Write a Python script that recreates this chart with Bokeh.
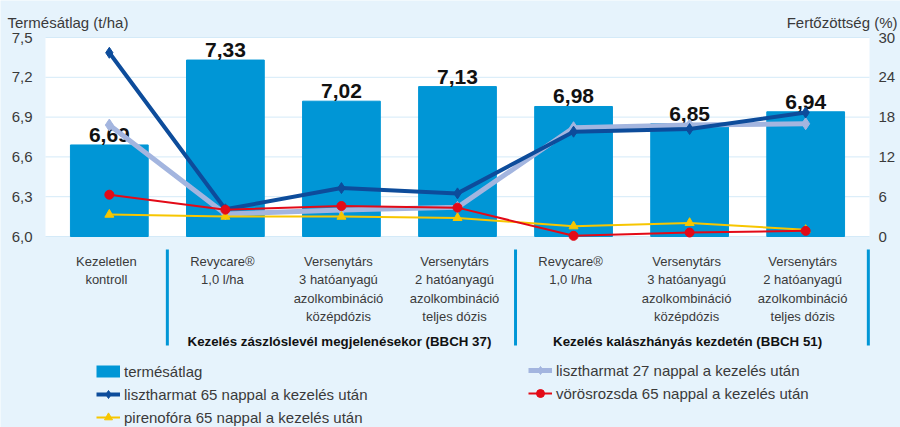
from bokeh.plotting import figure
from bokeh.models import (Range1d, BoxAnnotation, Legend, LegendItem, ColumnDataSource)
from bokeh.embed import file_html
from bokeh.resources import INLINE
from bokeh.core.properties import value

# ---------------- data ----------------
category_lines = [
    ["Kezeletlen", "kontroll"],
    ["Revycare®", "1,0 l/ha"],
    ["Versenytárs", "3 hatóanyagú", "azolkombináció", "középdózis"],
    ["Versenytárs", "2 hatóanyagú", "azolkombináció", "teljes dózis"],
    ["Revycare®", "1,0 l/ha"],
    ["Versenytárs", "3 hatóanyagú", "azolkombináció", "középdózis"],
    ["Versenytárs", "2 hatóanyagú", "azolkombináció", "teljes dózis"],
]
yield_avg = [6.69, 7.33, 7.02, 7.13, 6.98, 6.85, 6.94]
mildew_27 = [16.8, 3.4, 4.0, 4.4, 16.4, 16.8, 17.0]
mildew_65 = [27.7, 4.1, 7.3, 6.5, 15.8, 16.2, 18.7]
rust_65 = [6.3, 4.05, 4.6, 4.35, 0.1, 0.6, 0.85]
pyrenophora_65 = [3.3, 3.0, 3.0, 2.8, 1.55, 2.05, 1.0]
groups = ["Kezelés zászlóslevél megjelenésekor (BBCH 37)",
          "Kezelés kalászhányás kezdetén (BBCH 51)"]
group_bounds = [(1, 4), (4, 7)]
left_ticks = [6.0, 6.3, 6.6, 6.9, 7.2, 7.5]
right_ticks = [0, 6, 12, 18, 24, 30]
series_names = ["termésátlag", "lisztharmat 27 nappal a kezelés után",
                "lisztharmat 65 nappal a kezelés után",
                "vörösrozsda 65 nappal a kezelés után",
                "pirenofóra 65 nappal a kezelés után"]
left_title = "Termésátlag (t/ha)"
right_title = "Fertőzöttség (%)"

# ---------------- style ----------------
BG = "#E6F3FC"
BAR = "#0096D6"
DARK = "#0D4C9B"
LAV = "#A3B5DF"
RED = "#E30A17"
YEL = "#F7C600"
TXT = "#3a3a3a"
SANS = "Liberation Sans"

W, H = 900, 427
# plot area in pixels
PL, PR, PT, PB = 45, 869, 37, 236
X0, X1 = -0.05, 7.05
Y0, Y1 = 6.0, 7.5
R0, R1 = 0.0, 30.0
sx = (X1 - X0) / (PR - PL)
sy = (Y1 - Y0) / (PB - PT)
sr = (R1 - R0) / (PB - PT)
XL, XR = X0 - PL * sx, X1 + (W - PR) * sx
YT, YB = Y1 + PT * sy, Y0 - (H - PB) * sy
RT, RB = R1 + PT * sr, R0 - (H - PB) * sr


def dx(px):
    return XL + px * sx


def dy(py):
    return YT - py * sy


xs = [i + 0.5 for i in range(len(yield_avg))]
labels = [f"{v:.2f}".replace(".", ",") for v in yield_avg]

p = figure(width=W, height=H, output_backend="svg", toolbar_location=None,
           x_range=Range1d(XL, XR), y_range=Range1d(YB, YT), min_border=0,
           background_fill_color=BG, border_fill_color=BG, outline_line_color=None)
p.extra_y_ranges = {"pct": Range1d(RB, RT)}
p.axis.visible = False
p.grid.visible = False

# plot area background
p.add_layout(BoxAnnotation(left=X0, right=X1, bottom=Y0, top=Y1,
                           fill_color="white", fill_alpha=1, line_color=None,
                           level="underlay"))
# grid lines
p.segment(x0=X0, x1=X1, y0=left_ticks, y1=left_ticks, line_color="#D4EAF8",
          line_width=1)

# tick labels
p.text(x=[X0] * len(left_ticks), y=left_ticks,
       text=[f"{t:.1f}".replace(".", ",") for t in left_ticks],
       text_align="right", text_baseline="middle", x_offset=-13,
       text_font=value(SANS), text_font_size="15px", text_color=TXT)
p.text(x=[X1] * len(right_ticks), y=right_ticks, y_range_name="pct",
       text=[str(t) for t in right_ticks],
       text_align="left", text_baseline="middle", x_offset=9,
       text_font=value(SANS), text_font_size="15px", text_color=TXT)

src = ColumnDataSource(dict(x=xs, y=yield_avg, lab=labels, m27=mildew_27,
                            m65=mildew_65, rust=rust_65, pyr=pyrenophora_65))

p.vbar(x="x", top="y", bottom=Y0, width=0.67, color=BAR, source=src)
p.text(x="x", y="y", text="lab", source=src, text_align="center",
       text_baseline="bottom", y_offset=-3, text_font=value(SANS),
       text_font_style="bold", text_font_size="21px", text_color="#111111")

l27 = p.line("x", "m27", source=src, y_range_name="pct", color=LAV, line_width=5)
s27 = p.scatter("x", "m27", source=src, y_range_name="pct", marker="diamond",
                size=12, color=LAV)
l65 = p.line("x", "m65", source=src, y_range_name="pct", color=DARK, line_width=4)
s65 = p.scatter("x", "m65", source=src, y_range_name="pct", marker="diamond",
                size=11, color=DARK)
lp = p.line("x", "pyr", source=src, y_range_name="pct", color=YEL, line_width=2)
sp = p.scatter("x", "pyr", source=src, y_range_name="pct", marker="triangle",
               size=9, color=YEL)
lr = p.line("x", "rust", source=src, y_range_name="pct", color=RED, line_width=2)
srr = p.scatter("x", "rust", source=src, y_range_name="pct", marker="circle",
                size=9, color=RED)

# legend proxy for the bars (no visible mark)
bar_proxy = p.line(x=[float("nan")], y=[float("nan")], color=BAR, line_width=12)

# category labels
baselines = [260.7, 279.2, 297.7, 316.2]
cx, cy, ct = [], [], []
for x, lines in zip(xs, category_lines):
    for k, t in enumerate(lines):
        cx.append(x)
        cy.append(dy(baselines[k]))
        ct.append(t)
p.text(x=cx, y=cy, text=ct, text_align="center", text_baseline="alphabetic",
       x_offset=-3, text_font=value(SANS), text_font_size="13px",
       text_color=TXT)

p.text(x=[(a + b) / 2 for a, b in group_bounds], y=[dy(341)] * len(groups),
       text=groups, text_align="center", text_baseline="alphabetic", x_offset=-2,
       text_font=value(SANS), text_font_style="bold", text_font_size="13.3px",
       text_color="#111111")

sep_x = [a for a, b in group_bounds] + [group_bounds[-1][1] + 0.04]
p.segment(x0=sep_x, x1=sep_x, y0=[dy(249)] * 3, y1=[dy(345)] * 3,
          line_color=BAR, line_width=3)

p.text(x=[dx(7)], y=[dy(21.5)], text=[left_title], text_align="left",
       text_baseline="alphabetic", text_font=value(SANS),
       text_font_size="15px", text_color=TXT)
p.text(x=[dx(897)], y=[dy(21.5)], text=[right_title], text_align="right",
       text_baseline="alphabetic", text_font=value(SANS),
       text_font_size="15px", text_color=TXT)

common = dict(border_line_color=None, background_fill_alpha=0, padding=0,
              margin=0, spacing=3, label_height=20, glyph_height=20,
              glyph_width=24, label_standoff=4, label_text_font=SANS,
              label_text_font_size="15px", label_text_color=TXT)
leg_left = Legend(items=[LegendItem(label=series_names[0], renderers=[bar_proxy]),
                         LegendItem(label=series_names[2], renderers=[l65, s65]),
                         LegendItem(label=series_names[4], renderers=[lp, sp])],
                  location=(96, 0), **common)
leg_right = Legend(items=[LegendItem(label=series_names[1], renderers=[l27, s27]),
                          LegendItem(label=series_names[3], renderers=[lr, srr])],
                   location=(528, 24), **common)
p.add_layout(leg_left)
p.add_layout(leg_right)

open("out.html", "w").write(file_html(p, INLINE))
